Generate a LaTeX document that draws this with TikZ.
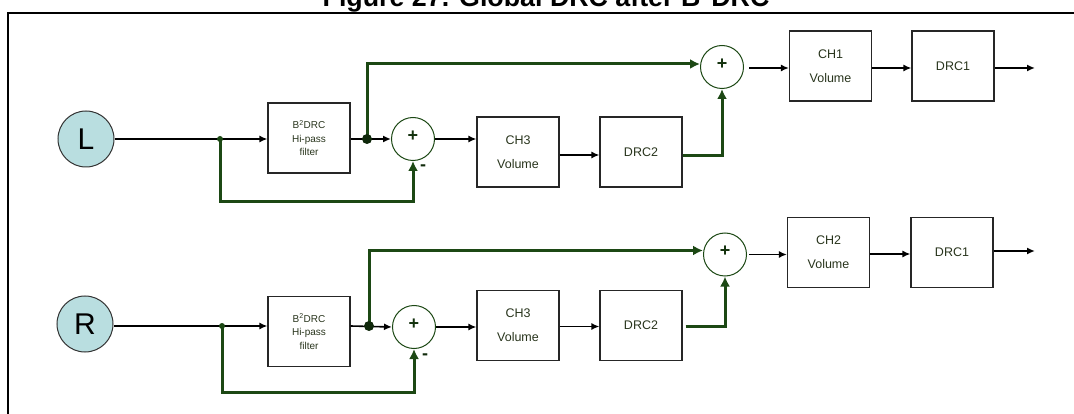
\documentclass[tikz,border=0pt]{standalone}
\usepackage{fontspec}
\setmainfont{Liberation Sans}
\usetikzlibrary{arrows.meta,calc}
\definecolor{grn}{RGB}{28,72,20}
\definecolor{txt}{RGB}{40,52,28}
\definecolor{lblue}{RGB}{185,222,224}
\begin{document}
\begin{tikzpicture}[x=1pt,y=-1pt,
  box/.style={draw=black!85, line width=1.1pt, minimum width=82pt, minimum height=70pt, inner sep=0pt, font=\fontsize{12.5}{24}\selectfont, text=txt, align=center},
  hbox/.style={box, font=\fontsize{10}{13.5}\selectfont},
  sumc/.style={circle, draw=grn, line width=1pt, minimum size=43pt, inner sep=0pt},
  plus/.style={text=grn!70!black, font=\bfseries\fontsize{18}{18}\selectfont, inner sep=0pt},
  minus/.style={text=grn!60!black, font=\bfseries\fontsize{18}{18}\selectfont, inner sep=0pt},
  inp/.style={circle, draw=black!80, fill=lblue, line width=1pt, minimum size=56pt, inner sep=0pt, font=\fontsize{30}{30}\selectfont},
  blk/.style={draw=black, line width=1.6pt, -{Latex[length=8pt,width=7pt]}},
  gline/.style={draw=grn, line width=3pt},
  garr/.style={gline, -{Latex[length=10pt,width=10pt]}},
  dotS/.style={circle, fill=grn, inner sep=0pt, minimum size=6pt},
  dotB/.style={circle, fill=grn!55!black, inner sep=0pt, minimum size=10pt}]
\useasboundingbox (0,0) rectangle (1074,414);

% title and frame
\node[font=\bfseries\fontsize{26.8}{30}\selectfont, anchor=base] (title) at (546,6.5) {Figure 27. Global DRC after B\textsuperscript{2}DRC};
\draw[line width=1.6pt] (8,414) -- (8,13) -- (1074,13);

% ---------- top channel (L) ----------
\node[inp] (L) at (86,139) {L};
\node[hbox] (hpL) at (309,138) {B\textsuperscript{2}DRC\\Hi-pass\\filter};
\node[sumc] (sL1) at (413,139) {};
\node[plus] at ($(sL1)+(0,-3)$) {+};
\node[minus] (mL) at (423,168) {-};
\node[box] (ch3L) at (518,152) {CH3\\Volume};
\node[box] (drc2L) at (641,152) {DRC2};
\node[sumc] (sL2) at (722,67) {};
\node[plus] at ($(sL2)+(0,-3)$) {+};
\node[box] (ch1) at (830.5,66) {CH1\\Volume};
\node[box] (drc1L) at (953,66) {DRC1};
\coordinate (jL1) at (220,139);
\coordinate (jL2) at (367,139);
\coordinate (outL) at (1035,68);

\draw[blk] (L.east) -- (L.east -| hpL.west);
\draw[garr] (jL1) -- ++(0,63) -| (sL1.south);
\node[dotS] at (jL1) {};
\draw[blk] (hpL.east |- sL1) -- (sL1.west);
\draw[garr] (jL2) |- ($(sL2.west)+(0,-3)$);
\node[dotB] at (jL2) {};
\draw[blk] (sL1.east) -- (ch3L.west |- sL1.east);
\draw[blk] ($(ch3L.east)+(0,3)$) -- ($(drc2L.west)+(0,3)$);
\draw[garr] ($(drc2L.east)+(0,4)$) -| (sL2.south);
\draw[blk] ($(sL2.east)+(5,1)$) -- ($(ch1.west)+(0,2)$);
\draw[blk] ($(ch1.east)+(0,2)$) -- ($(drc1L.west)+(0,2)$);
\draw[blk] ($(drc1L.east)+(0,2)$) -- (outL);

% ---------- bottom channel (R) ----------
\node[inp] (R) at (85,324) {R};
\node[hbox] (hpR) at (309,331.5) {B\textsuperscript{2}DRC\\Hi-pass\\filter};
\node[sumc] (sR1) at (414,327) {};
\node[plus] at ($(sR1)+(0,-3)$) {+};
\node[minus] (mR) at (425,357) {-};
\node[box] (ch3R) at (518,325.5) {CH3\\Volume};
\node[box] (drc2R) at (641,325.5) {DRC2};
\node[sumc] (sR2) at (725,254.5) {};
\node[plus] at ($(sR2)+(0,-3)$) {+};
\node[box] (ch2) at (828.5,252.5) {CH2\\Volume};
\node[box] (drc1R) at (952,252.5) {DRC1};
\coordinate (jR1) at (222,326);
\coordinate (jR2) at (369,326);
\coordinate (outR) at (1035,251);

\draw[blk] (R.east |- jR1) -- (jR1 -| hpR.west);
\draw[garr] (jR1) -- ++(0,66) -| (sR1.south);
\node[dotS] at (jR1) {};
\draw[blk] (hpR.east |- jR2) -- (sR1.west);
\draw[garr] (jR2) |- ($(sR2.west)+(0,-4)$);
\node[dotB] at (jR2) {};
\draw[blk] (sR1.east) -- (ch3R.west |- sR1.east);
\draw[blk] ($(ch3R.east)+(0,1)$) -- ($(drc2R.west)+(0,1)$);
\draw[garr] ($(drc2R.east)+(3,1)$) -| (sR2.south);
\draw[blk] ($(sR2.east)+(2,0)$) -- (ch2.west |- sR2.east);
\draw[blk] ($(ch2.east)+(0,1.5)$) -- ($(drc1R.west)+(0,1.5)$);
\draw[blk] ($(drc1R.east)+(0,-1.5)$) -- (outR);
\end{tikzpicture}
\end{document}
